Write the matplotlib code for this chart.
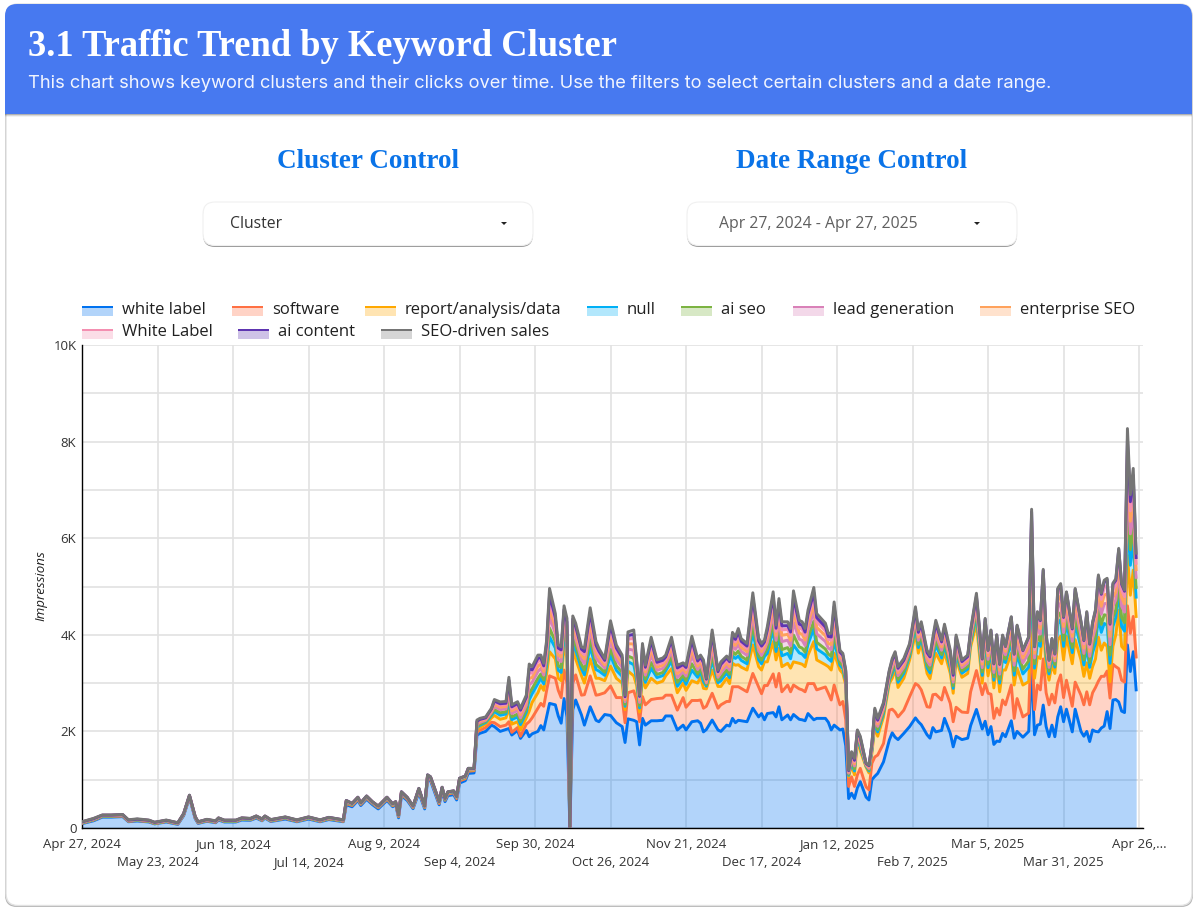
#!/usr/bin/env python3
"""Traffic trend by keyword cluster, stacked area dashboard card."""

import matplotlib
matplotlib.use("Agg")
import matplotlib.pyplot as plt
import numpy as np
from matplotlib.patches import FancyBboxPatch, Polygon, Rectangle

# days since Apr 27, 2024
days = [
    0, 4, 7, 10, 14, 16, 19, 23, 25, 29,
    33, 35, 37, 39, 40, 43, 46, 47, 49, 53,
    55, 58, 60, 62, 63, 65, 70, 74, 78, 82,
    85, 90, 91, 93, 95, 96, 98, 100, 102, 105,
    107, 108, 109, 110, 112, 114, 116, 118, 119, 120,
    122, 123, 124, 125, 126, 128, 129, 130, 132, 133,
    135, 136, 137, 139, 141, 142, 144, 146, 147, 148,
    150, 151, 153, 154, 155, 157, 158, 159, 160, 161,
    163, 164, 165, 166, 167, 168, 169, 170, 172, 173,
    175, 177, 178, 180, 182, 184, 186, 187, 188, 190,
    191, 192, 193, 194, 196, 198, 200, 201, 203, 205,
    207, 208, 210, 212, 213, 214, 215, 217, 219, 220,
    222, 223, 224, 225, 226, 227, 229, 231, 233, 234,
    235, 236, 238, 239, 240, 241, 243, 244, 245, 247,
    248, 249, 250, 252, 253, 256, 257, 258, 259, 261,
    262, 263, 264, 265, 266, 267, 268, 270, 271, 272,
    273, 274, 276, 278, 279, 280, 281, 283, 285, 287,
    288, 289, 291, 292, 293, 294, 296, 297, 299, 300,
    301, 303, 305, 306, 308, 310, 311, 312, 313, 314,
    315, 316, 317, 318, 320, 321, 322, 324, 326, 327,
    328, 329, 330, 331, 332, 333, 334, 335, 336, 337,
    338, 339, 341, 342, 344, 345, 346, 347, 348, 349,
    350, 351, 352, 353, 354, 355, 356, 357, 358, 359,
    360, 361, 362, 363,
]

# top of the whole stack
total = [
    130, 200, 270, 270, 280, 170, 190, 165, 120, 165,
    110, 300, 680, 235, 130, 180, 150, 210, 165, 165,
    210, 200, 250, 190, 250, 175, 230, 170, 230, 170,
    220, 170, 570, 510, 635, 525, 660, 545, 455, 635,
    500, 545, 270, 750, 635, 455, 820, 455, 1100, 1060,
    720, 545, 840, 615, 750, 770, 650, 1030, 1075, 1235,
    1235, 2235, 2270, 2300, 2480, 2660, 2610, 2620, 3120, 2550,
    2615, 2480, 2750, 3395, 3340, 3580, 3580, 3410, 3890, 4960,
    4440, 3790, 3750, 4600, 4340, 0, 4390, 4240, 3750, 3720,
    4560, 3860, 3720, 3510, 4290, 3790, 3580, 2750, 4060, 4100,
    3480, 2750, 3820, 3370, 3950, 3480, 3520, 3580, 3950, 3370,
    3420, 3370, 3970, 3510, 3580, 3480, 3100, 4100, 3270, 3440,
    3560, 3480, 4050, 3960, 4130, 3920, 3820, 4870, 3930, 3820,
    3890, 4170, 4890, 4200, 4750, 4270, 4270, 4130, 4910, 4300,
    4270, 4130, 4510, 4980, 4440, 4240, 4030, 4030, 4680, 3680,
    3615, 3270, 1200, 1580, 1440, 2030, 1900, 1340, 1300, 1750,
    2480, 2270, 2600, 3270, 3510, 3650, 3340, 3510, 3820, 4580,
    4100, 4270, 3680, 3580, 3950, 4300, 3890, 4220, 3680, 3200,
    3995, 3480, 3580, 4100, 4860, 3510, 4340, 3680, 4100, 3410,
    4000, 3400, 3995, 3760, 4375, 3610, 4200, 3685, 3960, 6600,
    3760, 4480, 4310, 5355, 4030, 3480, 3925, 3610, 4960, 5060,
    4380, 4890, 4140, 4960, 4280, 3890, 4480, 3820, 4260, 4520,
    5240, 4860, 5130, 5170, 4240, 5070, 5160, 5790, 5070, 4930,
    8270, 6900, 7445, 5690,
]

white_label = [
    90, 150, 225, 225, 235, 130, 145, 125, 85, 125,
    75, 255, 630, 190, 95, 140, 110, 165, 125, 125,
    165, 160, 205, 150, 205, 135, 185, 130, 185, 130,
    175, 130, 480, 440, 570, 465, 595, 485, 395, 570,
    440, 490, 210, 670, 570, 400, 730, 395, 1000, 980,
    650, 480, 760, 545, 670, 690, 580, 930, 980, 1130,
    1140, 1920, 1960, 2000, 2130, 2100, 2000, 2040, 2060, 1925,
    2020, 1855, 2020, 1890, 1950, 2000, 2120, 2030, 2300, 2580,
    2550, 2320, 2170, 2680, 2300, 0, 2450, 2650, 2340, 2130,
    2510, 2230, 2200, 2350, 2330, 2180, 2100, 1770, 2260, 2230,
    2200, 1720, 2270, 2130, 2220, 2220, 2230, 2320, 2320, 2030,
    2130, 2030, 2200, 2220, 2170, 1990, 2040, 2235, 2030, 2000,
    2130, 2110, 2270, 2180, 2230, 2220, 2200, 2480, 2300, 2370,
    2240, 2370, 2390, 2300, 2510, 2240, 2340, 2240, 2350, 2250,
    2240, 2220, 2370, 2240, 2270, 2270, 2190, 2030, 2130, 2030,
    2050, 1700, 610, 720, 610, 830, 960, 640, 580, 1000,
    1070, 1130, 1370, 1820, 1970, 1880, 1830, 1960, 2100, 2280,
    2200, 2140, 1930, 1860, 2080, 1990, 2020, 2270, 1960, 1680,
    1900, 1830, 1860, 2120, 2455, 2050, 2210, 1930, 2100, 1730,
    1800, 1790, 1960, 1890, 2220, 1860, 2000, 1880, 2000, 3340,
    1930, 2130, 2150, 2545, 2100, 1890, 2130, 1890, 2300, 2510,
    2200, 2460, 1990, 2460, 2000, 1900, 2000, 1790, 2030, 2000,
    1990, 2070, 2110, 2410, 2060, 2650, 2660, 2610, 2420, 2390,
    3790, 3240, 3650, 2860,
]

# top of the software band
software_top = [
    100, 165, 240, 240, 250, 140, 155, 135, 90, 135,
    85, 270, 645, 205, 105, 150, 120, 180, 135, 135,
    180, 170, 220, 160, 220, 145, 200, 140, 200, 140,
    190, 140, 510, 465, 595, 490, 620, 510, 420, 595,
    460, 510, 235, 700, 595, 420, 770, 420, 1040, 1010,
    680, 505, 800, 575, 705, 725, 610, 975, 1020, 1175,
    1185, 1990, 2020, 2080, 2190, 2180, 2100, 2130, 2200, 1980,
    2080, 1900, 2150, 2200, 2280, 2480, 2580, 2520, 2850, 3150,
    3100, 2850, 2700, 3270, 3000, 0, 3000, 3170, 2750, 2760,
    3150, 2750, 2760, 2800, 2940, 2700, 2700, 2180, 2800, 2840,
    2650, 2200, 2720, 2550, 2660, 2680, 2690, 2750, 2750, 2440,
    2700, 2500, 2640, 2640, 2650, 2480, 2520, 2790, 2480, 2550,
    2620, 2620, 2925, 2925, 2925, 2890, 2820, 3200, 2920, 2780,
    2950, 2950, 3190, 2920, 3200, 2820, 2960, 2820, 2960, 2880,
    2860, 2820, 2990, 2990, 2860, 2920, 2790, 2650, 2960, 2550,
    2620, 2240, 860, 1060, 860, 1100, 1235, 850, 790, 1340,
    1470, 1510, 1750, 2440, 2460, 2400, 2300, 2440, 2720, 2990,
    2950, 2860, 2510, 2500, 2760, 2770, 2650, 2910, 2580, 2200,
    2500, 2400, 2390, 2820, 3260, 2760, 2990, 2790, 2770, 2270,
    2480, 2340, 2650, 2550, 2960, 2270, 2680, 2300, 2380, 4030,
    2450, 2960, 2860, 3500, 2800, 2550, 2770, 2590, 3000, 3170,
    2700, 3060, 2520, 3020, 2750, 2550, 2820, 2550, 2800, 2910,
    3040, 3140, 3140, 3250, 2690, 3390, 3340, 3300, 3060, 3020,
    4600, 4030, 4380, 3540,
]

# top of the report/analysis/data band
report_top = [
    105, 170, 245, 245, 255, 145, 160, 140, 95, 140,
    90, 275, 650, 210, 110, 155, 125, 185, 140, 140,
    185, 175, 225, 165, 225, 150, 205, 145, 205, 145,
    195, 145, 530, 480, 610, 500, 635, 520, 430, 610,
    470, 520, 245, 715, 610, 430, 785, 430, 1060, 1030,
    695, 520, 815, 590, 720, 740, 625, 995, 1040, 1195,
    1200, 2040, 2080, 2150, 2280, 2330, 2250, 2280, 2500, 2150,
    2200, 2030, 2280, 2420, 2600, 2800, 2950, 2850, 3200, 3650,
    3500, 3100, 3050, 3800, 3500, 0, 3700, 3500, 3150, 3000,
    3500, 3100, 3100, 3050, 3350, 3100, 3000, 2450, 3250, 3150,
    2950, 2400, 3100, 2900, 3100, 3000, 3040, 3150, 3300, 2800,
    3000, 2850, 3050, 3000, 3130, 2890, 2880, 3270, 2930, 2930,
    3100, 2990, 3410, 3370, 3380, 3330, 3270, 3790, 3340, 3270,
    3440, 3440, 3860, 3480, 3720, 3340, 3410, 3310, 3440, 3410,
    3390, 3340, 3580, 3860, 3480, 3380, 3340, 3270, 3620, 3270,
    3200, 2960, 1060, 1300, 1100, 1820, 1600, 1260, 1140, 1550,
    2100, 1900, 2300, 2995, 3100, 3300, 2910, 3100, 3480, 4030,
    3620, 3830, 3200, 3090, 3400, 3620, 3400, 3640, 3200, 2790,
    3500, 3120, 3200, 3750, 4240, 3000, 3680, 3150, 3480, 2900,
    3400, 2820, 3270, 3270, 3620, 2960, 3310, 2960, 3030, 4510,
    3100, 3550, 3510, 4220, 3340, 3060, 3380, 3200, 3900, 3970,
    3480, 3970, 3400, 3900, 3480, 3140, 3420, 3100, 3340, 3500,
    3950, 3680, 3830, 3760, 3030, 3760, 4000, 4510, 3760, 3690,
    5650, 4820, 5340, 4380,
]

# thin bands above report, as band heights
null_band = [
    5, 5, 4, 5, 5, 4, 4, 4, 5, 5,
    3, 5, 6, 4, 4, 5, 4, 5, 4, 4,
    5, 5, 4, 5, 4, 5, 4, 5, 5, 5,
    6, 5, 10, 8, 7, 6, 7, 6, 6, 7,
    8, 7, 6, 9, 6, 6, 9, 6, 10, 8,
    7, 6, 8, 6, 7, 7, 6, 9, 9, 10,
    8, 45, 45, 35, 50, 80, 85, 80, 150, 95,
    100, 110, 115, 235, 180, 190, 150, 135, 165, 310,
    225, 165, 170, 190, 200, 0, 165, 180, 145, 170,
    255, 180, 150, 110, 225, 165, 140, 70, 195, 230,
    125, 85, 175, 115, 205, 115, 115, 105, 155, 135,
    100, 125, 220, 120, 110, 140, 55, 200, 80, 120,
    110, 120, 155, 140, 180, 140, 130, 260, 140, 130,
    110, 175, 250, 175, 250, 225, 205, 195, 350, 215,
    210, 190, 225, 270, 230, 205, 165, 180, 255, 100,
    100, 75, 30, 65, 80, 50, 70, 20, 40, 50,
    90, 90, 70, 65, 100, 85, 105, 100, 80, 130,
    115, 105, 115, 120, 130, 165, 120, 140, 115, 100,
    120, 85, 90, 85, 150, 160, 210, 170, 200, 160,
    190, 180, 230, 155, 240, 205, 280, 230, 300, 650,
    210, 290, 250, 355, 215, 130, 170, 130, 330, 340,
    280, 290, 230, 330, 250, 235, 330, 225, 290, 320,
    400, 370, 405, 440, 380, 410, 360, 400, 410, 385,
    780, 620, 630, 400,
]

ai_seo = [
    3, 4, 3, 3, 4, 3, 3, 3, 3, 3,
    3, 4, 5, 3, 3, 3, 3, 4, 3, 3,
    4, 3, 4, 3, 4, 3, 4, 3, 4, 3,
    4, 3, 7, 5, 5, 4, 5, 4, 4, 5,
    5, 5, 4, 6, 4, 4, 6, 4, 7, 5,
    5, 4, 5, 4, 5, 5, 4, 6, 6, 7,
    5, 25, 25, 20, 30, 45, 50, 45, 85, 55,
    60, 60, 65, 135, 105, 110, 90, 80, 95, 180,
    130, 95, 100, 110, 120, 0, 95, 105, 85, 100,
    150, 105, 85, 65, 130, 95, 80, 40, 115, 130,
    75, 50, 100, 65, 120, 65, 65, 60, 90, 80,
    60, 75, 130, 70, 65, 85, 30, 115, 50, 70,
    65, 70, 90, 85, 105, 85, 75, 150, 85, 75,
    65, 100, 145, 100, 145, 130, 120, 115, 205, 125,
    125, 110, 130, 155, 135, 120, 95, 105, 150, 55,
    60, 45, 20, 40, 45, 30, 40, 10, 20, 30,
    55, 50, 40, 40, 55, 50, 60, 55, 50, 75,
    65, 60, 65, 70, 75, 95, 70, 80, 65, 55,
    70, 50, 55, 50, 85, 70, 90, 75, 85, 70,
    85, 80, 100, 70, 105, 90, 125, 100, 130, 290,
    90, 130, 110, 160, 95, 60, 75, 55, 150, 150,
    125, 130, 105, 150, 110, 105, 150, 100, 130, 145,
    180, 165, 180, 200, 170, 185, 160, 180, 185, 175,
    400, 320, 320, 200,
]

lead_generation = [
    6, 6, 6, 6, 6, 6, 7, 6, 6, 6,
    5, 6, 7, 6, 5, 6, 6, 6, 6, 6,
    6, 6, 7, 6, 7, 6, 6, 6, 6, 6,
    6, 6, 9, 7, 6, 6, 6, 6, 6, 6,
    7, 6, 6, 8, 6, 6, 8, 6, 9, 7,
    6, 6, 6, 6, 7, 7, 6, 8, 8, 9,
    6, 35, 35, 25, 35, 60, 65, 60, 110, 70,
    75, 80, 85, 175, 130, 140, 115, 100, 125, 235,
    170, 125, 125, 145, 150, 0, 125, 135, 110, 130,
    190, 135, 110, 85, 170, 125, 105, 55, 145, 170,
    95, 65, 130, 85, 155, 85, 85, 75, 115, 100,
    75, 95, 165, 90, 80, 105, 40, 150, 60, 90,
    85, 90, 115, 105, 135, 105, 100, 195, 105, 100,
    80, 130, 185, 130, 185, 165, 155, 150, 265, 160,
    160, 140, 165, 200, 175, 155, 125, 135, 190, 75,
    75, 55, 25, 50, 60, 40, 55, 15, 30, 35,
    70, 65, 55, 50, 75, 65, 80, 75, 60, 100,
    85, 80, 85, 90, 100, 120, 90, 105, 85, 75,
    90, 65, 70, 65, 110, 90, 115, 95, 110, 90,
    110, 105, 130, 90, 135, 115, 160, 130, 165, 370,
    120, 165, 145, 200, 125, 75, 100, 75, 190, 195,
    160, 165, 130, 190, 145, 135, 190, 130, 165, 180,
    230, 210, 230, 250, 215, 235, 205, 230, 235, 220,
    400, 330, 340, 210,
]

enterprise_seo = [
    3, 3, 3, 3, 3, 2, 3, 2, 3, 2,
    2, 3, 4, 3, 2, 3, 2, 3, 3, 3,
    3, 3, 3, 3, 3, 3, 3, 2, 3, 3,
    4, 3, 6, 4, 4, 3, 4, 3, 3, 4,
    4, 3, 3, 5, 3, 3, 5, 3, 6, 4,
    4, 3, 4, 3, 4, 4, 3, 5, 5, 6,
    5, 25, 25, 20, 30, 45, 50, 50, 85, 55,
    55, 65, 65, 135, 100, 110, 90, 75, 95, 180,
    130, 95, 95, 110, 115, 0, 95, 100, 85, 100,
    145, 105, 85, 65, 130, 95, 80, 40, 110, 130,
    75, 50, 100, 65, 120, 65, 65, 60, 90, 80,
    60, 70, 130, 70, 60, 80, 30, 115, 45, 70,
    65, 70, 90, 80, 105, 80, 75, 150, 80, 75,
    60, 100, 145, 100, 145, 130, 120, 115, 205, 125,
    125, 110, 130, 155, 135, 120, 95, 105, 150, 55,
    55, 45, 20, 40, 45, 30, 40, 10, 25, 30,
    50, 50, 40, 40, 55, 50, 60, 55, 45, 75,
    65, 60, 65, 70, 75, 95, 70, 80, 65, 55,
    70, 50, 55, 50, 85, 70, 90, 75, 85, 70,
    85, 80, 100, 70, 105, 90, 125, 100, 130, 285,
    95, 130, 110, 160, 95, 60, 75, 55, 150, 150,
    125, 130, 100, 150, 110, 105, 150, 100, 130, 140,
    180, 165, 180, 195, 170, 180, 160, 180, 180, 170,
    320, 260, 260, 160,
]

white_label_caps = [
    3, 3, 4, 3, 3, 3, 3, 3, 3, 3,
    2, 3, 4, 3, 3, 3, 3, 3, 3, 3,
    3, 3, 3, 3, 3, 3, 3, 3, 3, 3,
    3, 3, 5, 4, 3, 3, 3, 3, 3, 3,
    4, 3, 3, 4, 3, 3, 4, 3, 5, 4,
    3, 3, 4, 3, 3, 3, 3, 4, 5, 5,
    4, 22, 22, 18, 24, 40, 43, 40, 75, 48,
    50, 54, 56, 115, 90, 95, 75, 67, 83, 157,
    112, 83, 84, 96, 100, 0, 83, 88, 72, 86,
    127, 91, 74, 55, 112, 83, 70, 36, 97, 114,
    64, 42, 86, 56, 102, 58, 58, 52, 78, 68,
    50, 62, 110, 61, 54, 71, 26, 100, 41, 61,
    55, 59, 77, 71, 90, 71, 66, 130, 71, 66,
    54, 88, 124, 86, 124, 112, 103, 98, 176, 107,
    106, 95, 112, 134, 115, 103, 83, 91, 127, 49,
    50, 37, 17, 34, 41, 25, 36, 10, 19, 24,
    46, 44, 36, 33, 49, 42, 52, 49, 41, 66,
    58, 53, 58, 59, 66, 82, 59, 70, 58, 49,
    59, 43, 46, 42, 74, 61, 79, 64, 74, 61,
    72, 70, 87, 59, 91, 78, 107, 87, 112, 250,
    79, 112, 96, 136, 83, 50, 65, 49, 127, 131,
    108, 110, 89, 127, 96, 90, 127, 86, 110, 122,
    155, 142, 156, 169, 145, 157, 139, 154, 157, 149,
    260, 215, 215, 130,
]

ai_content = [
    1, 1, 1, 1, 1, 1, 1, 1, 1, 1,
    1, 2, 2, 1, 1, 1, 1, 1, 1, 1,
    1, 1, 1, 1, 1, 1, 1, 1, 1, 1,
    2, 2, 3, 2, 2, 2, 2, 2, 2, 2,
    2, 2, 2, 3, 2, 2, 3, 2, 3, 2,
    2, 2, 2, 2, 2, 2, 2, 3, 3, 3,
    3, 15, 15, 12, 16, 28, 30, 28, 55, 36,
    37, 40, 42, 90, 68, 70, 55, 50, 62, 118,
    85, 62, 63, 72, 76, 0, 62, 66, 54, 65,
    95, 68, 56, 41, 85, 62, 52, 27, 73, 85,
    48, 32, 65, 42, 76, 43, 43, 39, 58, 51,
    38, 47, 83, 46, 40, 53, 20, 75, 31, 46,
    41, 44, 58, 53, 68, 53, 50, 97, 53, 50,
    40, 66, 93, 65, 93, 84, 77, 74, 132, 80,
    79, 71, 84, 101, 86, 77, 62, 68, 95, 37,
    37, 28, 13, 25, 31, 19, 27, 7, 14, 18,
    34, 33, 27, 25, 37, 32, 39, 37, 31, 50,
    43, 40, 43, 44, 50, 61, 44, 52, 43, 37,
    45, 32, 34, 32, 56, 46, 59, 48, 56, 46,
    54, 52, 65, 44, 68, 59, 80, 65, 84, 190,
    59, 84, 72, 102, 62, 38, 49, 37, 95, 98,
    81, 83, 67, 95, 72, 68, 95, 65, 83, 92,
    116, 106, 117, 127, 109, 118, 104, 115, 118, 112,
    235, 190, 195, 120,
]

cluster_names = ["white label", "software", "report/analysis/data", "null", "ai seo",
                 "lead generation", "enterprise SEO", "White Label", "ai content",
                 "SEO-driven sales"]
cluster_colors = ["#0072F0", "#FF7043", "#FFA800", "#00B0F6", "#7CB342",
                  "#D981B8", "#FFA25C", "#F48FB1", "#5E35B1", "#757575"]

tick_days = [0, 26, 52, 78, 104, 130, 156, 182, 208, 234, 260, 286, 312, 338, 364]
tick_labels = ["Apr 27, 2024", "May 23, 2024", "Jun 18, 2024", "Jul 14, 2024", "Aug 9, 2024",
               "Sep 4, 2024", "Sep 30, 2024", "Oct 26, 2024", "Nov 21, 2024", "Dec 17, 2024",
               "Jan 12, 2025", "Feb 7, 2025", "Mar 5, 2025", "Mar 31, 2025", "Apr 26,..."]

W, H = 1199, 915
SANS = "Open Sans"
SERIF = "Liberation Serif"

fig = plt.figure(figsize=(W / 100, H / 100), dpi=100, facecolor="white")

# page furniture drawn in pixel coordinates
bg = fig.add_axes([0, 0, 1, 1], zorder=0)
bg.set_xlim(0, W)
bg.set_ylim(H, 0)
bg.axis("off")


def rounded(x0, y0, x1, y1, r, **kw):
    patch = FancyBboxPatch((x0 + r, y0 + r), x1 - x0 - 2 * r, y1 - y0 - 2 * r,
                           boxstyle=f"round,pad={r},rounding_size={r}", **kw)
    bg.add_patch(patch)


# card with soft edge
rounded(5, 6, 1193, 907, 12, fc="#b5b5b5", ec="none")
rounded(6, 4, 1192, 905.5, 12, fc="white", ec="#e2e2e2", lw=1)

# header band
for i, a in enumerate([0.05, 0.1, 0.18]):
    bg.add_patch(Rectangle((5, 114), 1187, 3 - i, fc="black", alpha=a, ec="none"))
rounded(5, 4, 1192, 60, 12, fc="#4779F0", ec="none")
bg.add_patch(Rectangle((5, 30), 1187, 84, fc="#4779F0", ec="none"))
bg.text(28, 47, "3.1 Traffic Trend by Keyword Cluster", color="white", fontsize=26.3,
        fontweight="bold", family=SERIF, va="center", ha="left")
bg.text(28, 83, "This chart shows keyword clusters and their clicks over time. "
                "Use the filters to select certain clusters and a date range.",
        color="#f2f5fe", fontsize=13.2, family="Inter", va="center", ha="left")

# control titles and drop-downs
bg.text(368, 161, "Cluster Control", color="#0A73E8", fontsize=19.5, fontweight="bold",
        family=SERIF, ha="center", va="center")
bg.text(852, 161, "Date Range Control", color="#0A73E8", fontsize=19.5, fontweight="bold",
        family=SERIF, ha="center", va="center")
for x0, x1, label, text_x, color, arrow_x in [
    (203, 533, "Cluster", 230, "#333333", 504),
    (687, 1017, "Apr 27, 2024 - Apr 27, 2025", 719, "#5f5f5f", 977),
]:
    rounded(x0, 204, x1, 247, 12, fc="#9a9a9a", ec="none")
    rounded(x0, 202, x1, 245.5, 12, fc="white", ec="#f0f0f0", lw=0.8)
    bg.text(text_x, 224, label, color=color, fontsize=11.3, family=SANS, va="center", ha="left")
    bg.add_patch(Polygon([(arrow_x - 3, 222), (arrow_x + 3, 222), (arrow_x, 225)],
                         fc="#222222", ec="none"))

# manual legend, two rows like the reference
legend_slots = [(82, 308), (232, 308), (365, 308), (587, 308), (681, 308), (793, 308), (980, 308),
                (82, 331), (238, 331), (381, 331)]
for (lx, ly), name, color in zip(legend_slots, cluster_names, cluster_colors):
    bg.add_patch(Rectangle((lx, ly - 2), 31, 10, fc=color, alpha=0.3, ec="none"))
    bg.add_patch(Rectangle((lx, ly - 2), 31, 2.2, fc=color, ec="none"))
    bg.text(lx + 40, ly + 1.5, name, color="#202020", fontsize=11.95, family=SANS, va="center", ha="left")

bg.text(41, 586, "Impressions", rotation=90, style="italic", fontsize=9.6, family=SANS,
        color="#222222", ha="center", va="center")

# the chart itself
left, right, top, bottom = 82, 1143, 345, 828
ax = fig.add_axes([left / W, 1 - bottom / H, (right - left) / W, (bottom - top) / H], zorder=1)
ax.patch.set_alpha(0)

x = np.array(days)
seo_driven = np.maximum(np.array(total) - np.array(report_top) - np.array(null_band) - np.array(ai_seo)
                        - np.array(lead_generation) - np.array(enterprise_seo)
                        - np.array(white_label_caps) - np.array(ai_content), 0)
bands = [white_label,
         np.subtract(software_top, white_label),
         np.subtract(report_top, software_top),
         null_band, ai_seo, lead_generation, enterprise_seo, white_label_caps, ai_content, seo_driven]
tops = np.cumsum(np.array(bands, dtype=float), axis=0)

lower = np.zeros(len(x))
for y, color in zip(tops, cluster_colors):
    ax.fill_between(x, lower, y, color=color, alpha=0.3, lw=0, zorder=2)
    lower = y
for y, color in zip(tops, cluster_colors):
    ax.plot(x, y, color=color, lw=2.1, solid_joinstyle="round", zorder=3)

ax.set_xlim(0, (right - left) / 2.904)
ax.set_ylim(0, 10000)

ax.set_yticks([0, 2000, 4000, 6000, 8000, 10000])
ax.set_yticklabels(["0", "2K", "4K", "6K", "8K", "10K"], fontsize=9.5, family=SANS, color="#333333")
ax.set_yticks([1000, 3000, 5000, 7000, 9000], minor=True)

# staggered date labels: even ones as major ticks, odd ones pushed down as minor ticks
ax.set_xticks(tick_days[::2])
ax.set_xticklabels(tick_labels[::2], fontsize=9.5, family=SANS, color="#333333", va="baseline")
ax.set_xticks(tick_days[1::2], minor=True)
ax.set_xticklabels(tick_labels[1::2], minor=True, fontsize=9.5, family=SANS, color="#333333", va="baseline")
ax.tick_params(axis="x", which="major", length=0, pad=14.4)
ax.tick_params(axis="x", which="minor", length=0, pad=27.4)
ax.tick_params(axis="y", which="both", length=0, pad=4)

ax.grid(True, which="both", color="#e2e2e2", lw=1.2)
ax.set_axisbelow(True)

for side in ["top", "right"]:
    ax.spines[side].set_visible(False)
for side in ["left", "bottom"]:
    ax.spines[side].set_color("black")
    ax.spines[side].set_linewidth(1.0)

fig.savefig("out.png", dpi=100)
